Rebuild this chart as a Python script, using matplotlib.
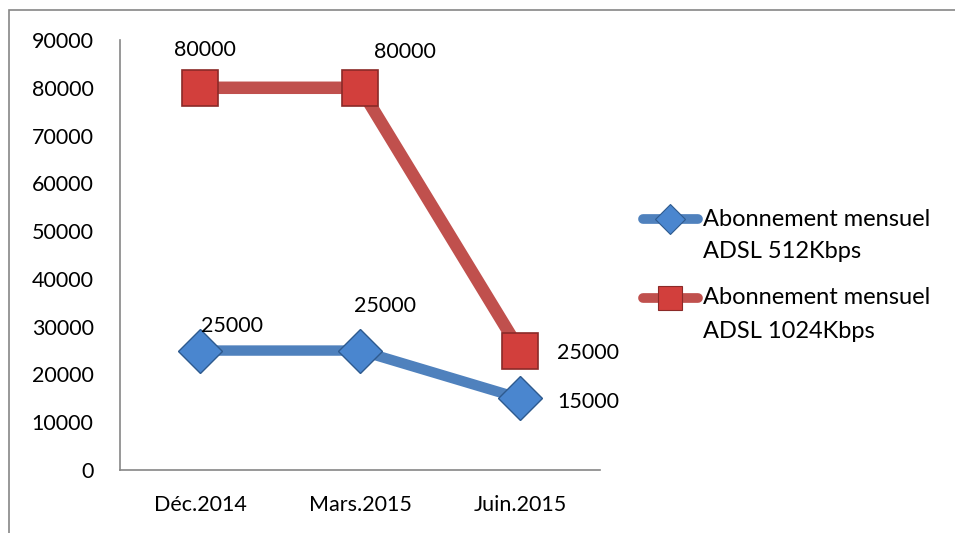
import matplotlib
matplotlib.use('Agg')
from matplotlib import pyplot as plt
from matplotlib.lines import Line2D
from matplotlib.patches import Rectangle

plt.rcParams['font.family'] = ['Lato', 'DejaVu Sans']

mois = ['Déc.2014', 'Mars.2015', 'Juin.2015']
adsl_512 = [25000, 25000, 15000]
adsl_1024 = [80000, 80000, 25000]
noms = ['Abonnement mensuel\nADSL 512Kbps', 'Abonnement mensuel\nADSL 1024Kbps']

bleu = '#4F81BD'
rouge = '#C0504D'
gris = '#868686'
taille = 15.5

fig = plt.figure(figsize=(9.55, 5.33), dpi=100)
# cadre du graphique (coupé à droite et en bas)
fig.add_artist(Rectangle((9 / 955, -0.1), 1.2, 1 - 10 / 533 + 0.1, transform=fig.transFigure,
                         fill=False, edgecolor=gris, lw=1.2))

ax = fig.add_axes([120 / 955, 63 / 533, 480 / 955, 430 / 533])
x = range(len(mois))

ax.plot(x, adsl_1024, color=rouge, lw=9, solid_capstyle='butt', zorder=2)
ax.plot(x, adsl_1024, 's', ms=26, mfc='#D23F3C', mec='#8B2A28', mew=1.2, zorder=4)
ax.plot(x, adsl_512, color=bleu, lw=7.5, solid_capstyle='butt', zorder=2)
ax.plot(x, adsl_512, 'D', ms=22, mfc='#4A86CF', mec='#2E5A8E', mew=1.0, zorder=4)

# étiquettes de données
dec_rouge = [(5, 38, 'center'), (45, 36, 'center'), (37, -2, 'left')]
dec_bleu = [(32, 25, 'center'), (25, 45, 'center'), (37, -4, 'left')]
for i in x:
    dx, dy, ha = dec_rouge[i]
    ax.annotate(str(adsl_1024[i]), (i, adsl_1024[i]), xytext=(dx * 0.72, dy * 0.72),
                textcoords='offset points', ha=ha, va='center', fontsize=taille, zorder=5)
    dx, dy, ha = dec_bleu[i]
    ax.annotate(str(adsl_512[i]), (i, adsl_512[i]), xytext=(dx * 0.72, dy * 0.72),
                textcoords='offset points', ha=ha, va='center', fontsize=taille, zorder=5)

ax.set_xlim(-0.5, 2.5)
ax.set_ylim(0, 90000)
ax.set_yticks(range(0, 90001, 10000))
ax.set_xticks(list(x))
ax.set_xticklabels(mois)
ax.tick_params(axis='both', length=0, labelsize=taille)
ax.tick_params(axis='y', pad=19)
ax.tick_params(axis='x', pad=18)
for s in ['top', 'right']:
    ax.spines[s].set_visible(False)
for s in ['left', 'bottom']:
    ax.spines[s].set_color(gris)
    ax.spines[s].set_linewidth(1.2)

# légende à droite
for k, (couleur, mk, ms, mfc, mec, y) in enumerate([
        (bleu, 'D', 15, '#4A86CF', '#2E5A8E', 219),
        (rouge, 's', 17, '#D23F3C', '#8B2A28', 298)]):
    yf = 1 - y / 533
    fig.add_artist(Line2D([643 / 955, 698 / 955], [yf, yf], transform=fig.transFigure,
                          color=couleur, lw=7, solid_capstyle='round'))
    fig.add_artist(Line2D([670 / 955], [yf], transform=fig.transFigure, marker=mk, ms=ms,
                          mfc=mfc, mec=mec, mew=0.8, linestyle='none'))
    fig.text(703 / 955, yf, noms[k].split('\n')[0], ha='left', va='center', fontsize=17)
    fig.text(703 / 955, yf - 33 / 533, noms[k].split('\n')[1], ha='left', va='center',
             fontsize=17)

fig.savefig('out.png', dpi=100)
